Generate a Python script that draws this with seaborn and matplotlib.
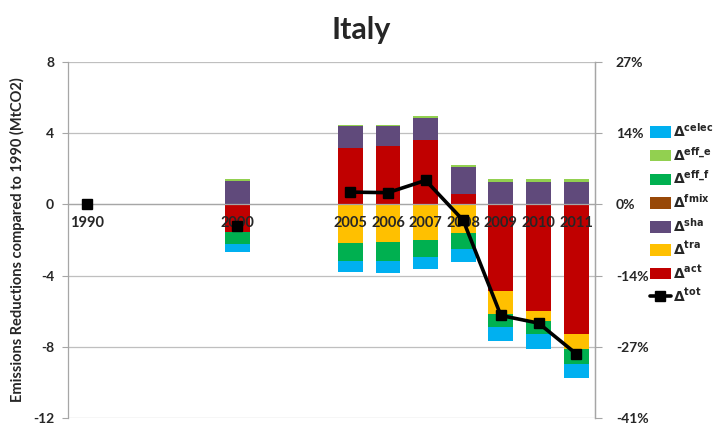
import numpy as np
import matplotlib
matplotlib.use("Agg")
import matplotlib.pyplot as plt
import seaborn as sns
from matplotlib.patches import Patch
from matplotlib.lines import Line2D

# categories (blank slots keep the Excel spacing)
years = ['1990', '', '', '', '2000', '', '', '2005', '2006', '2007', '2008', '2009', '2010', '2011']

# decomposition components, MtCO2
act = [0, 0, 0, 0, -1.55, 0, 0, 3.16, 3.28, 3.60, 0.56, -4.87, -6.00, -7.30]
tra = [0, 0, 0, 0, 0.00, 0, 0, -2.15, -2.12, -2.02, -1.60, -1.31, -0.56, -0.80]
sha = [0, 0, 0, 0, 1.30, 0, 0, 1.24, 1.10, 1.25, 1.53, 1.25, 1.25, 1.25]
fmix = [0, 0, 0, 0, 0.00, 0, 0, 0.00, 0.00, 0.00, 0.00, 0.00, 0.00, 0.00]
eff_f = [0, 0, 0, 0, -0.70, 0, 0, -1.05, -1.08, -0.94, -0.90, -0.71, -0.71, -0.84]
eff_e = [0, 0, 0, 0, 0.10, 0, 0, 0.08, 0.08, 0.10, 0.15, 0.15, 0.15, 0.15]
celec = [0, 0, 0, 0, -0.40, 0, 0, -0.60, -0.63, -0.69, -0.71, -0.80, -0.84, -0.84]
tot = [0, np.nan, np.nan, np.nan, -1.22, np.nan, np.nan, 0.69, 0.66, 1.35, -0.90, -6.24, -6.67, -8.39]

yticks = [-12, -8, -4, 0, 4, 8]
pct_labels = ['-41%', '-27%', '-14%', '0%', '14%', '27%']

sns.set_theme(style='white')
plt.rcParams['font.family'] = ['Lato', 'DejaVu Sans']
plt.rcParams['mathtext.fontset'] = 'dejavusans'

fig = plt.figure(figsize=(7.22, 4.29), dpi=100)
ax = fig.add_axes([68 / 722, 1 - 418 / 429, (595 - 68) / 722, (418 - 62) / 429])

n = len(years)
x = np.arange(n)

# stacking order from zero outwards (legend is shown reversed)
series = [('act', act, '#C00000'),
          ('tra', tra, '#FFC000'),
          ('sha', sha, '#604A7B'),
          ('fmix', fmix, '#984807'),
          ('eff_f', eff_f, '#00B050'),
          ('eff_e', eff_e, '#92D050'),
          ('celec', celec, '#00B0F0')]

pos_base = np.zeros(n)
neg_base = np.zeros(n)
for name, vals, col in series:
    v = np.array(vals, dtype=float)
    bottom = np.where(v >= 0, pos_base, neg_base)
    sns.barplot(x=x, y=v, bottom=bottom, color=col, saturation=1, width=0.66,
                errorbar=None, linewidth=0, ax=ax, zorder=2)
    pos_base += np.clip(v, 0, None)
    neg_base += np.clip(v, None, 0)

# year labels sit on top of the bars, like the category axis in the original
for xi, lab in zip(x, years):
    ax.annotate(lab, (xi, 0), xytext=(0, -8), textcoords='offset points',
                ha='center', va='top', fontsize=10.5, fontweight='bold', zorder=4)

ax.plot(x, tot, color='black', linewidth=2.6, marker='s', markersize=7.5, zorder=5)

ax.set_xlim(-0.5, n - 0.5)
ax.set_ylim(-12, 8)
ax.set_yticks(yticks)
ax.set_yticklabels([str(t) for t in yticks], fontsize=10, fontweight='bold')
ax.yaxis.grid(True, color='#BFBFBF', linewidth=0.9)
ax.set_axisbelow(True)

ax.set_xticks(x)
ax.set_xticklabels([])
ax.set_xticks(np.arange(-0.5, n, 1), minor=True)
ax.tick_params(axis='x', which='major', length=0)
ax.tick_params(axis='x', which='minor', length=6, direction='inout', color='#A6A6A6', width=0.8)
ax.tick_params(axis='y', length=4, direction='out', color='#A6A6A6', width=0.8, pad=6, left=True)
ax.spines['bottom'].set_position(('data', 0))
for s in ['bottom', 'left', 'right']:
    ax.spines[s].set_color('#A6A6A6')
    ax.spines[s].set_linewidth(0.9)
ax.spines['top'].set_visible(False)
ax.set_xlabel('')
ax.set_ylabel('Emissions Reductions compared to 1990 (MtCO2)', fontsize=10.5, fontweight='bold', labelpad=6)

ax2 = ax.twinx()
ax2.set_ylim(-12, 8)
ax2.set_yticks(yticks)
ax2.set_yticklabels(pct_labels, fontsize=10, fontweight='bold')
ax2.tick_params(axis='y', length=5, direction='out', color='#A6A6A6', width=0.8, pad=10, right=True)
for s in ['top', 'bottom', 'left']:
    ax2.spines[s].set_visible(False)
ax2.spines['right'].set_color('#A6A6A6')
ax2.spines['right'].set_linewidth(0.9)

handles = [Patch(facecolor=col, edgecolor='none') for _, _, col in reversed(series)]
labels = [r'$\mathbf{\Delta^{%s}}$' % name.replace('_', r'\_') for name, _, _ in reversed(series)]
handles.append(Line2D([], [], color='black', linewidth=2.6, marker='s', markersize=7))
labels.append(r'$\mathbf{\Delta^{tot}}$')
fig.legend(handles, labels, loc='upper left', bbox_to_anchor=(650 / 722, 1 - 121 / 429),
           frameon=False, fontsize=10, handlelength=1.5, handleheight=0.9,
           handletextpad=0.15, labelspacing=0.42, borderaxespad=0, borderpad=0)

fig.text(0.5, 1 - 30 / 429, 'Italy', ha='center', va='center', fontsize=22, fontweight='bold')

fig.savefig('out.png', dpi=100)
